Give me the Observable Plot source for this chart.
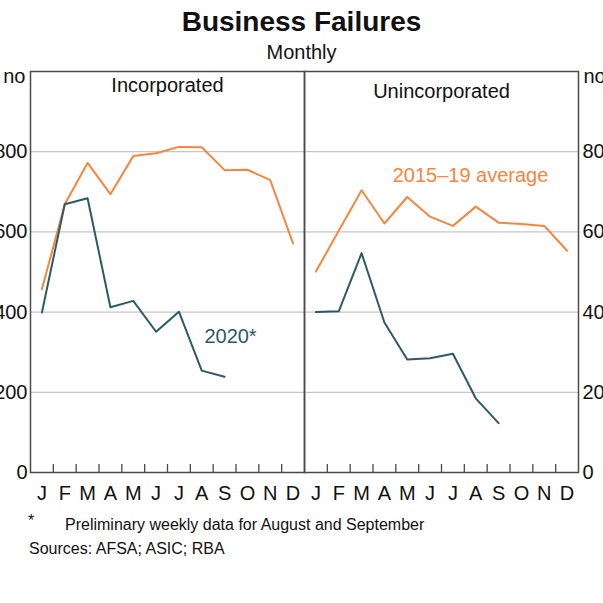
<!DOCTYPE html>
<html><head><meta charset="utf-8">
<script src="https://cdn.jsdelivr.net/npm/d3@7"></script>
<script src="https://cdn.jsdelivr.net/npm/@observablehq/plot@0.6"></script>
<style>
body{margin:0;background:#fff;}
#wrap{position:relative;width:603px;height:603px;overflow:hidden;font-family:"Liberation Sans",Arial,sans-serif;color:#111;}
.abs{position:absolute;white-space:nowrap;}
svg{overflow:visible;}
</style></head><body>
<div id="wrap">
 <div class="abs" style="left:0;width:603px;text-align:center;top:6px;font-size:28px;font-weight:bold;">Business Failures</div>
 <div class="abs" style="left:0;width:603px;text-align:center;top:41px;font-size:20px;">Monthly</div>
 <div id="left" class="abs" style="left:0;top:0"></div>
 <div id="right" class="abs" style="left:304px;top:0"></div>
 <div class="abs" style="left:28px;top:512px;font-size:16px">*</div>
 <div class="abs" style="left:65px;top:516px;font-size:16px">Preliminary weekly data for August and September</div>
 <div class="abs" style="left:29px;top:540px;font-size:16px">Sources: AFSA; ASIC; RBA</div>
</div>
<script>
const months = ["J","F","M","A","M","J","J","A","S","O","N","D"];
const incorporatedAvg = [457,669,772,694,789,796,812,811,754,755,729,571];
const incorporated2020 = [399,669,684,412,428,351,401,254,239];
const unincorporatedAvg = [50.1,60.3,70.4,62.1,68.7,63.8,61.5,66.3,62.3,62.0,61.5,55.3];
const unincorporated2020 = [40,40.2,54.7,37.4,28.2,28.5,29.6,18.5,12.3];
const leftTicks = [0,200,400,600,800];
const rightTicks = [0,20,40,60,80];
const leftTop = 1000, rightTop = 100;
const label2020 = {text:"2020*", month:8.76, value:340};
const labelAvg = {text:"2015–19 average", month:7.27, value:74};

const orange = "#f5863f", teal = "#2d5a66", axisColor = "#4a4a4a", gridColor = "#c6c6c6";
const font = "'Liberation Sans', Arial, sans-serif";
const rows = arr => arr.map((v,i)=>({m:i+0.5, v}));
const H = 500, MT = 71, MB = 28, innerH = H - MT - MB;

function panel({values, series2020, ticks, top, title, titleDy, anchor, label, width, ml, mr}) {
  return Plot.plot({
    width, height: H, marginLeft: ml, marginRight: mr, marginTop: MT, marginBottom: MB,
    x: {domain:[0,12], label: null},
    y: {domain:[0,top], label: null},
    style: {fontFamily: font, fontSize: "20px", color: "#111", background: "transparent", overflow: "visible"},
    marks: [
      Plot.gridY(ticks.slice(1), {stroke: gridColor, strokeOpacity: 1, strokeWidth: 1.3}),
      Plot.tickX(d3.range(1,12), {stroke: axisColor, strokeWidth: 1.3, insetTop: innerH - 8}),
      Plot.axisY(ticks, {anchor, label: null, tickSize: 0, tickPadding: anchor === "left" ? 3 : 4, fontSize: 20}),
      Plot.axisY([top], {anchor, label: null, tickSize: 0, tickPadding: 5, dy: 5, tickFormat: () => "no", fontSize: 20}),
      Plot.axisX(months.map((_,i)=>i+0.5), {label: null, tickSize: 0, tickPadding: 13, tickFormat: d => months[Math.floor(d)], fontSize: 20}),
      Plot.line(rows(values), {x:"m", y:"v", stroke: orange, strokeWidth: 2}),
      Plot.line(rows(series2020), {x:"m", y:"v", stroke: teal, strokeWidth: 2}),
      Plot.text([title], {frameAnchor: "top", lineAnchor: "middle", dy: titleDy, fontSize: 20, fill: "#111"}),
      Plot.text([label.l], {x: label.l.month, y: label.l.value, text: d => d.text, fill: label.color, fontSize: 20}),
      Plot.frame({stroke: axisColor, strokeWidth: 1.5})
    ]
  });
}

document.getElementById("left").append(panel({
  values: incorporatedAvg, series2020: incorporated2020, ticks: leftTicks, top: leftTop,
  title: "Incorporated", titleDy: 14, anchor: "left", label: {l: label2020, color: teal},
  width: 305, ml: 30, mr: 1
}));
document.getElementById("right").append(panel({
  values: unincorporatedAvg, series2020: unincorporated2020, ticks: rightTicks, top: rightTop,
  title: "Unincorporated", titleDy: 20, anchor: "right", label: {l: labelAvg, color: orange},
  width: 299, ml: 0, mr: 25
}));
</script>
</body></html>
